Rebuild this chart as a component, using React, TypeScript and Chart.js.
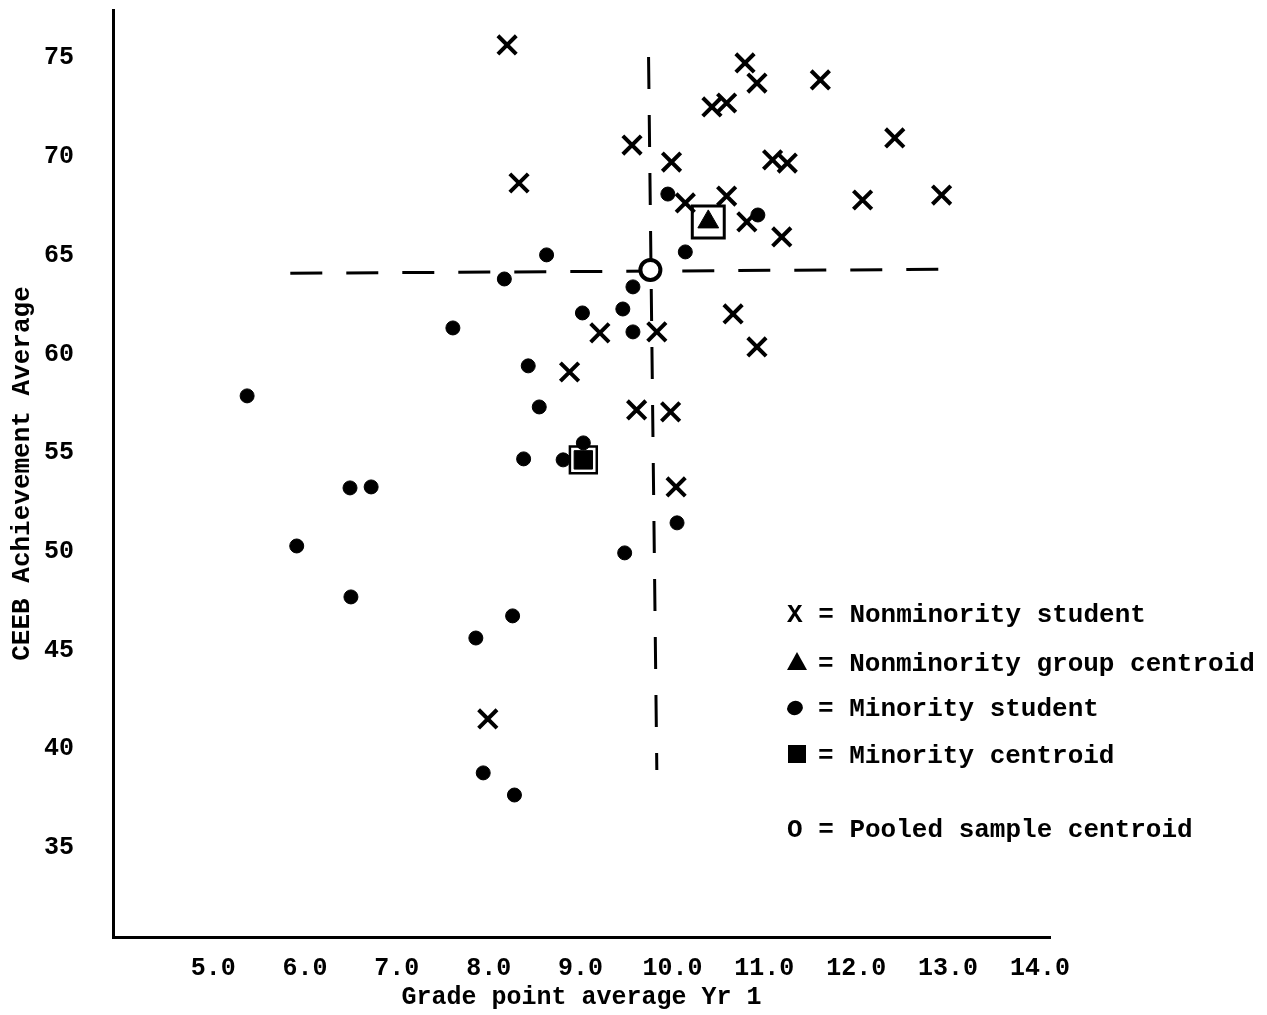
import React, { useEffect, useRef } from 'react';
import { Chart, registerables } from 'chart.js';

Chart.register(...registerables);

// ---- Data ----
// Nonminority students: GPA (x) and CEEB achievement average (y)
const nonminorityGPA = [8.20, 10.79, 10.92, 11.61, 10.43, 10.59, 9.56, 9.99, 12.42, 11.09, 11.25, 8.33, 10.14, 10.59, 10.81, 12.07, 12.93, 11.19, 10.66, 9.21, 9.83, 10.92, 8.88, 9.61, 9.98, 10.04, 7.99];
const nonminorityCEEB = [75.66, 74.75, 73.73, 73.89, 72.52, 72.72, 70.59, 69.73, 70.95, 69.84, 69.68, 68.67, 67.66, 68.01, 66.70, 67.81, 68.06, 65.94, 62.04, 61.08, 61.13, 60.37, 59.10, 57.18, 57.08, 53.28, 41.53];

// Minority students
const minorityGPA = [9.95, 10.93, 10.14, 8.63, 8.17, 9.57, 9.46, 9.02, 7.61, 9.57, 8.43, 5.37, 8.55, 8.38, 8.81, 9.03, 6.49, 6.72, 10.05, 5.91, 9.48, 6.50, 8.26, 7.86, 7.94, 8.28];
const minorityCEEB = [68.11, 67.05, 65.18, 65.03, 63.81, 63.41, 62.29, 62.09, 61.33, 61.13, 59.41, 57.89, 57.33, 54.70, 54.65, 55.51, 53.23, 53.28, 51.46, 50.29, 49.94, 47.71, 46.75, 45.63, 38.80, 37.68];

// Centroids [GPA, CEEB]
const nonminorityCentroid = [10.39, 66.70];
const minorityCentroid = [9.03, 54.65];
const pooledCentroid = [9.76, 64.27];

// Pooled-mean dashed reference lines
const pooledGPALineX = [9.74, 9.83];
const pooledGPALineY = [75.05, 38.95];
const pooledCEEBLineX = [5.84, 13.02];
const pooledCEEBLineY = [64.1, 64.3];

// Axes
const xRange = [3.91, 14.11];
const yRange = [30.49, 77.43];
const xTickValues = [5, 6, 7, 8, 9, 10, 11, 12, 13, 14];
const xTickLabels = ['5.0', '6.0', '7.0', '8.0', '9.0', '10.0', '11.0', '12.0', '13.0', '14.0'];
const yTickValues = [35, 40, 45, 50, 55, 60, 65, 70, 75];
const yTickLabels = ['35', '40', '45', '50', '55', '60', '65', '70', '75'];
const xTitle = 'Grade point average Yr 1';
const yTitle = 'CEEB Achievement Average';

// Legend
const legendSymbols = ['X', 'triangle', 'dot', 'square', 'O'];
const legendLabels = ['Nonminority student', 'Nonminority group centroid', 'Minority student', 'Minority centroid', 'Pooled sample centroid'];

const FONT = '"Liberation Mono", "DejaVu Sans Mono", monospace';

const toPoints = (xs: number[], ys: number[]) => xs.map((x, i) => ({ x, y: ys[i] }));

const zeroPadding = (s: any) => {
  s.paddingLeft = 0;
  s.paddingRight = 0;
  s.paddingTop = 0;
  s.paddingBottom = 0;
};

const legendPlugin = {
  id: 'typedLegend',
  afterDatasetsDraw(chart: any) {
    const ctx = chart.ctx as CanvasRenderingContext2D;
    const baselines = [622, 671, 716, 763, 837];
    ctx.save();
    ctx.fillStyle = '#000';
    ctx.strokeStyle = '#000';
    ctx.font = `bold 26px ${FONT}`;
    ctx.textBaseline = 'alphabetic';
    ctx.textAlign = 'left';
    legendSymbols.forEach((sym, i) => {
      const by = baselines[i];
      const cy = by - 9;
      const cx = 797;
      if (sym === 'X' || sym === 'O') {
        ctx.fillText(`${sym} = ${legendLabels[i]}`, 787, by);
        return;
      }
      ctx.beginPath();
      if (sym === 'triangle') {
        ctx.moveTo(cx, cy - 10);
        ctx.lineTo(cx + 10, cy + 8);
        ctx.lineTo(cx - 10, cy + 8);
        ctx.closePath();
        ctx.fill();
      } else if (sym === 'dot') {
        ctx.ellipse(cx - 2, cy + 1, 8, 7, -0.4, 0, Math.PI * 2);
        ctx.fill();
      } else if (sym === 'square') {
        ctx.rect(cx - 9, cy - 9, 18, 18);
        ctx.fill();
      }
      ctx.fillText(`= ${legendLabels[i]}`, 818, by);
    });
    ctx.restore();
  },
};

export default function App() {
  const canvasRef = useRef<HTMLCanvasElement | null>(null);

  useEffect(() => {
    if (!canvasRef.current) return;
    const chart = new Chart(canvasRef.current, {
      type: 'scatter',
      data: {
        datasets: [
          {
            label: 'Pooled sample centroid',
            data: [{ x: pooledCentroid[0], y: pooledCentroid[1] }],
            pointStyle: 'circle',
            pointRadius: 10,
            pointBorderWidth: 4,
            pointBorderColor: '#000',
            pointBackgroundColor: '#fff',
          },
          {
            label: 'Nonminority group centroid',
            data: [{ x: nonminorityCentroid[0], y: nonminorityCentroid[1] }],
            pointStyle: 'triangle',
            pointRadius: 12,
            pointBorderWidth: 1,
            pointBorderColor: '#000',
            pointBackgroundColor: '#000',
          },
          {
            label: 'Nonminority group centroid frame',
            data: [{ x: nonminorityCentroid[0], y: nonminorityCentroid[1] }],
            pointStyle: 'rect',
            pointRadius: 22.6,
            pointBorderWidth: 3,
            pointBorderColor: '#000',
            pointBackgroundColor: 'rgba(0,0,0,0)',
          },
          {
            label: 'Minority centroid',
            data: [{ x: minorityCentroid[0], y: minorityCentroid[1] }],
            pointStyle: 'rect',
            pointRadius: 13,
            pointBorderWidth: 1,
            pointBorderColor: '#000',
            pointBackgroundColor: '#000',
          },
          {
            label: 'Minority centroid frame',
            data: [{ x: minorityCentroid[0], y: minorityCentroid[1] }],
            pointStyle: 'rect',
            pointRadius: 19,
            pointBorderWidth: 2.5,
            pointBorderColor: '#000',
            pointBackgroundColor: 'rgba(0,0,0,0)',
          },
          {
            label: 'Nonminority student',
            data: toPoints(nonminorityGPA, nonminorityCEEB),
            pointStyle: 'crossRot',
            pointRadius: 13,
            pointBorderWidth: 4,
            pointBorderColor: '#000',
            pointBackgroundColor: '#000',
          },
          {
            label: 'Minority student',
            data: toPoints(minorityGPA, minorityCEEB),
            pointStyle: 'circle',
            pointRadius: 7,
            pointBorderWidth: 1,
            pointBorderColor: '#000',
            pointBackgroundColor: '#000',
          },
          {
            label: 'Pooled mean GPA',
            data: toPoints(pooledGPALineX, pooledGPALineY),
            showLine: true,
            borderColor: '#000',
            borderWidth: 3,
            borderDash: [32, 26],
            pointRadius: 0,
          },
          {
            label: 'Pooled mean CEEB',
            data: toPoints(pooledCEEBLineX, pooledCEEBLineY),
            showLine: true,
            borderColor: '#000',
            borderWidth: 3,
            borderDash: [32, 24],
            pointRadius: 0,
          },
        ],
      },
      options: {
        animation: false,
        responsive: false,
        devicePixelRatio: 1,
        events: [],
        layout: { autoPadding: false, padding: { top: 10, right: 217, left: 0, bottom: 0 } },
        plugins: {
          legend: { display: false },
          tooltip: { enabled: false },
        },
        scales: {
          x: {
            type: 'linear',
            min: xRange[0],
            max: xRange[1],
            afterBuildTicks: (s: any) => {
              s.ticks = xTickValues.map((v) => ({ value: v }));
            },
            afterFit: (s: any) => {
              s.height = 78;
              zeroPadding(s);
            },
            grid: { display: false },
            border: { display: true, color: '#000', width: 3 },
            ticks: {
              color: '#000',
              padding: 9,
              autoSkip: false,
              maxRotation: 0,
              font: { family: FONT, size: 25, weight: 'bold' },
              callback: (_v: any, i: number) => xTickLabels[i],
            },
            title: {
              display: true,
              text: xTitle,
              color: '#000',
              font: { family: FONT, size: 25, weight: 'bold' },
              padding: { top: 0, bottom: 2 },
            },
          },
          y: {
            type: 'linear',
            min: yRange[0],
            max: yRange[1],
            afterBuildTicks: (s: any) => {
              s.ticks = yTickValues.map((v) => ({ value: v }));
            },
            afterFit: (s: any) => {
              s.width = 113;
              zeroPadding(s);
            },
            grid: { display: false },
            border: { display: true, color: '#000', width: 3 },
            ticks: {
              color: '#000',
              padding: 31,
              autoSkip: false,
              font: { family: FONT, size: 25, weight: 'bold' },
              callback: (_v: any, i: number) => yTickLabels[i],
            },
            title: {
              display: true,
              text: yTitle,
              color: '#000',
              font: { family: FONT, size: 26, weight: 'bold' },
              padding: { top: 7, bottom: 0 },
            },
          },
        },
      } as any,
      plugins: [legendPlugin],
    });
    return () => chart.destroy();
  }, []);

  return (
    <div style={{ position: 'fixed', left: 0, top: 0, width: 1267, height: 1015, background: '#fff' }}>
      <canvas ref={canvasRef} width={1267} height={1015} style={{ display: 'block' }} />
    </div>
  );
}
